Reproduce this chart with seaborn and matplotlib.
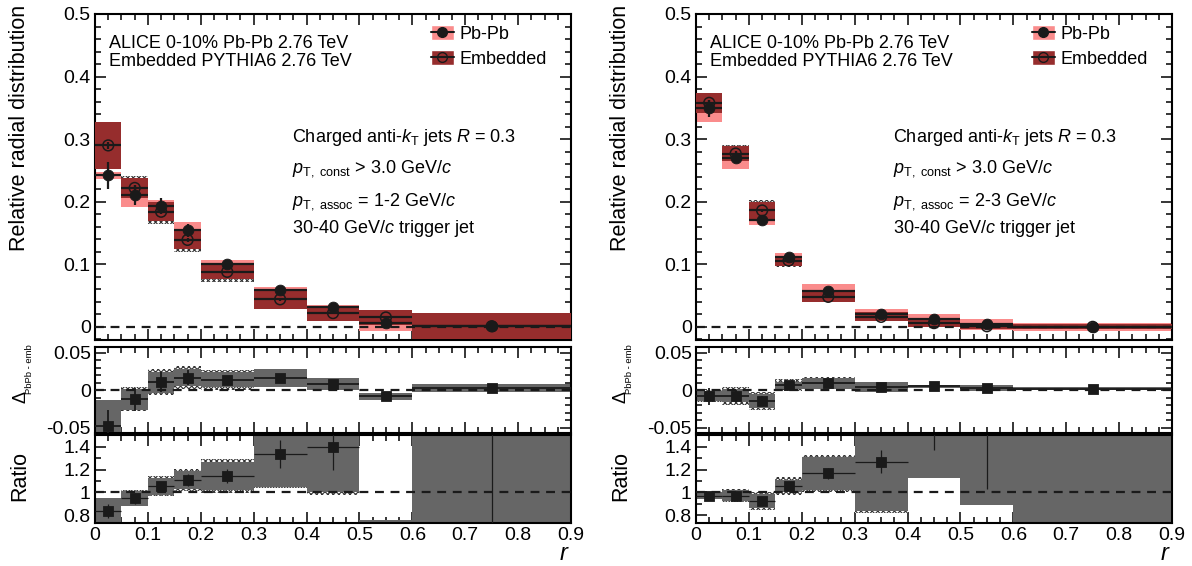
import numpy as np
import matplotlib
matplotlib.use('Agg')
import matplotlib.pyplot as plt
import seaborn as sns
from matplotlib.patches import Patch
from matplotlib.lines import Line2D
from matplotlib.ticker import MultipleLocator

# bins in r
r_center = [0.025, 0.075, 0.125, 0.175, 0.25, 0.35, 0.45, 0.55, 0.75]
r_halfw = [0.025, 0.025, 0.025, 0.025, 0.05, 0.05, 0.05, 0.05, 0.15]

# pT,assoc = 1-2 GeV/c
pbpb_12 = [0.242, 0.210, 0.193, 0.154, 0.101, 0.059, 0.031, 0.006, 0.002]
pbpb_12_stat = [0.022, 0.016, 0.013, 0.011, 0.005, 0.004, 0.004, 0.004, 0.003]
pbpb_12_sys = [0.005, 0.018, 0.010, 0.013, 0.006, 0.005, 0.004, 0.013, 0.004]
emb_12 = [0.290, 0.222, 0.184, 0.139, 0.088, 0.044, 0.022, 0.015, 0.001]
emb_12_stat = [0.006, 0.004, 0.004, 0.003, 0.002, 0.002, 0.002, 0.002, 0.002]
emb_12_sys = [0.037, 0.016, 0.015, 0.014, 0.012, 0.015, 0.012, 0.012, 0.021]
emb_12_hatch = [0.037, 0.019, 0.019, 0.019, 0.016, 0.016, 0.012, 0.012, 0.021]
delta_12 = [-0.048, -0.012, 0.011, 0.017, 0.014, 0.016, 0.009, -0.008, 0.003]
delta_12_stat = [0.022, 0.015, 0.013, 0.010, 0.005, 0.005, 0.004, 0.003, 0.002]
delta_12_sys = [0.035, 0.014, 0.014, 0.011, 0.010, 0.012, 0.008, 0.005, 0.005]
delta_12_hatch = [0.035, 0.016, 0.017, 0.015, 0.013, 0.012, 0.008, 0.005, 0.005]
ratio_12 = [0.839, 0.947, 1.055, 1.108, 1.143, 1.336, 1.40, 0.30, 1.60]
ratio_12_stat = [0.06, 0.05, 0.04, 0.05, 0.06, 0.12, 0.20, 0.30, 1.50]
ratio_12_sys = [0.11, 0.065, 0.075, 0.08, 0.12, 0.29, 0.40, 0.46, 2.0]
ratio_12_hatch = [0.11, 0.07, 0.09, 0.10, 0.15, 0.30, 0.42, 0.46, 2.0]

# pT,assoc = 2-3 GeV/c
pbpb_23 = [0.349, 0.270, 0.171, 0.112, 0.057, 0.020, 0.012, 0.004, 0.000]
pbpb_23_stat = [0.013, 0.008, 0.005, 0.004, 0.003, 0.002, 0.002, 0.002, 0.002]
pbpb_23_sys = [0.021, 0.017, 0.008, 0.006, 0.011, 0.008, 0.009, 0.009, 0.006]
emb_23 = [0.358, 0.277, 0.186, 0.106, 0.048, 0.016, 0.006, 0.001, 0.000]
emb_23_stat = [0.005, 0.004, 0.003, 0.002, 0.002, 0.002, 0.002, 0.002, 0.002]
emb_23_sys = [0.016, 0.012, 0.013, 0.008, 0.009, 0.007, 0.007, 0.005, 0.004]
emb_23_hatch = [0.016, 0.014, 0.017, 0.011, 0.009, 0.007, 0.007, 0.005, 0.004]
delta_23 = [-0.008, -0.007, -0.014, 0.0066, 0.0094, 0.0047, 0.0056, 0.0033, 0.002]
delta_23_stat = [0.011, 0.008, 0.006, 0.003, 0.002, 0.002, 0.002, 0.002, 0.001]
delta_23_sys = [0.0065, 0.009, 0.009, 0.005, 0.007, 0.007, 0.002, 0.004, 0.002]
delta_23_hatch = [0.008, 0.012, 0.012, 0.008, 0.008, 0.007, 0.002, 0.004, 0.002]
ratio_23 = [0.971, 0.971, 0.924, 1.055, 1.167, 1.27, 1.90, 1.80, 2.50]
ratio_23_stat = [0.02, 0.02, 0.02, 0.03, 0.05, 0.10, 0.53, 0.77, 0.5]
ratio_23_sys = [0.03, 0.05, 0.06, 0.05, 0.145, 0.43, 0.77, 0.91, 2.0]
ratio_23_hatch = [0.03, 0.06, 0.08, 0.08, 0.16, 0.45, 0.77, 0.91, 2.0]

PINK = '#fa8c8c'
DARK = '#962d2d'
GRAY = '#666666'

sns.set_theme(style='ticks')
plt.rcParams['font.family'] = ['Liberation Sans', 'DejaVu Sans']
plt.rcParams['mathtext.fontset'] = 'custom'
plt.rcParams['mathtext.rm'] = 'Liberation Sans'
plt.rcParams['mathtext.it'] = 'Liberation Sans:italic'
plt.rcParams['hatch.linewidth'] = 0.8
plt.rcParams['axes.unicode_minus'] = False
for k in ['text.color', 'axes.labelcolor', 'xtick.color', 'ytick.color', 'axes.edgecolor']:
    plt.rcParams[k] = 'black'


def boxes(ax, y, err, color, hatch=False, z=1):
    y = np.array(y)
    err = np.array(err)
    if hatch:
        ax.bar(r_center, 2 * err, bottom=y - err, width=np.array(r_halfw) * 2,
               color='white', edgecolor='#333333', linewidth=0, hatch='xxxxxx', zorder=z)
    else:
        ax.bar(r_center, 2 * err, bottom=y - err, width=np.array(r_halfw) * 2,
               color=color, linewidth=0, zorder=z)


def style(ax, ylim, ymaj, ymin, ylabels, xlabels):
    ax.set_xlim(0, 0.9)
    ax.set_ylim(*ylim)
    ax.xaxis.set_major_locator(MultipleLocator(0.1))
    ax.xaxis.set_minor_locator(MultipleLocator(0.025))
    ax.set_yticks(ymaj, ylabels)
    ax.yaxis.set_minor_locator(MultipleLocator(ymin))
    ax.tick_params(which='both', direction='in', top=True, right=True, labelsize=14, width=1.1, pad=3)
    ax.tick_params(which='major', length=8)
    ax.tick_params(which='minor', length=4)
    if xlabels:
        ax.set_xticks(np.arange(0, 0.91, 0.1), ['0', '0.1', '0.2', '0.3', '0.4', '0.5', '0.6', '0.7', '0.8', '0.9'])
    else:
        ax.set_xticklabels([])
    for s in ax.spines.values():
        s.set_linewidth(1.5)
    ax.set_xlabel('')
    ax.set_ylabel('')


fig = plt.figure(figsize=(11.92, 5.66), dpi=100)

panels = [
    (95, '1-2', pbpb_12, pbpb_12_stat, pbpb_12_sys, emb_12, emb_12_stat, emb_12_sys, emb_12_hatch,
     delta_12, delta_12_stat, delta_12_sys, delta_12_hatch, ratio_12, ratio_12_stat, ratio_12_sys, ratio_12_hatch),
    (696, '2-3', pbpb_23, pbpb_23_stat, pbpb_23_sys, emb_23, emb_23_stat, emb_23_sys, emb_23_hatch,
     delta_23, delta_23_stat, delta_23_sys, delta_23_hatch, ratio_23, ratio_23_stat, ratio_23_sys, ratio_23_hatch),
]

W, H = 1192., 566.
for (x0, assoc, pb, pb_st, pb_sy, em, em_st, em_sy, em_h,
     dl, dl_st, dl_sy, dl_h, rt, rt_st, rt_sy, rt_h) in panels:
    ax1 = fig.add_axes([x0 / W, 1 - 340 / H, 476 / W, 326 / H])
    ax2 = fig.add_axes([x0 / W, 1 - 433 / H, 476 / W, 86 / H])
    ax3 = fig.add_axes([x0 / W, 1 - 523 / H, 476 / W, 88 / H])

    # top panel: radial distributions
    boxes(ax1, em, em_h, None, hatch=True, z=1)
    boxes(ax1, pb, pb_sy, PINK, z=2)
    boxes(ax1, em, em_sy, DARK, z=3)
    ax1.axhline(0, color='k', ls=(0, (4, 3)), lw=1.6, zorder=4)
    ax1.errorbar(r_center, em, xerr=r_halfw, yerr=em_st, fmt='none', ecolor='k', elinewidth=1.6, zorder=5)
    ax1.errorbar(r_center, pb, xerr=r_halfw, yerr=pb_st, fmt='none', ecolor='k', elinewidth=1.6, zorder=6)
    sns.scatterplot(x=r_center, y=em, ax=ax1, marker='o', s=60, facecolor='none', edgecolor='k',
                    linewidth=1.1, zorder=7)
    sns.scatterplot(x=r_center, y=pb, ax=ax1, marker='o', s=60, color='k', edgecolor='k', zorder=8)
    style(ax1, (-0.021, 0.5), [0, 0.1, 0.2, 0.3, 0.4, 0.5], 0.02,
          ['0', '0.1', '0.2', '0.3', '0.4', '0.5'], False)

    fs = 13
    ax1.text(0.03, 0.911, 'ALICE 0-10% Pb-Pb 2.76 TeV', transform=ax1.transAxes, fontsize=fs, va='center')
    ax1.text(0.03, 0.853, 'Embedded PYTHIA6 2.76 TeV', transform=ax1.transAxes, fontsize=fs, va='center')
    ax1.text(0.413, 0.621, r'Charged anti-$k_{\rm T}$ jets $R$ = 0.3', transform=ax1.transAxes,
             fontsize=fs, va='center')
    ax1.text(0.413, 0.513, r'$p_{\rm T,\ const}$ > 3.0 GeV/$c$', transform=ax1.transAxes,
             fontsize=fs, va='baseline')
    ax1.text(0.413, 0.413, r'$p_{\rm T,\ assoc}$ = ' + assoc + r' GeV/$c$', transform=ax1.transAxes,
             fontsize=fs, va='baseline')
    ax1.text(0.413, 0.343, r'30-40 GeV/$c$ trigger jet', transform=ax1.transAxes, fontsize=fs, va='center')

    handles = [(Patch(facecolor=PINK), Line2D([], [], color='k', marker='o', ms=7, lw=1.5)),
               (Patch(facecolor=DARK), Line2D([], [], color='k', marker='o', ms=7, mfc='none', lw=1.5))]
    ax1.legend(handles, ['Pb-Pb', 'Embedded'], loc='upper left', bbox_to_anchor=(0.705, 0.965),
               frameon=False, fontsize=fs, handlelength=1.3, handleheight=0.9, labelspacing=0.4,
               handletextpad=0.3, borderpad=0, borderaxespad=0)

    # middle panel: difference
    boxes(ax2, dl, dl_h, None, hatch=True, z=1)
    boxes(ax2, dl, dl_sy, GRAY, z=2)
    ax2.axhline(0, color='k', ls=(0, (4, 3)), lw=1.6, zorder=4)
    ax2.errorbar(r_center, dl, xerr=r_halfw, yerr=dl_st, fmt='none', ecolor='k', elinewidth=1.3, zorder=5)
    sns.scatterplot(x=r_center, y=dl, ax=ax2, marker='s', s=55, color='k', edgecolor='k', zorder=6)
    style(ax2, (-0.057, 0.058), [-0.05, 0, 0.05], 0.01, ['-0.05', '0', '0.05'], False)

    # bottom panel: ratio
    boxes(ax3, rt, rt_h, None, hatch=True, z=1)
    boxes(ax3, rt, rt_sy, GRAY, z=2)
    ax3.axhline(1, color='k', ls=(0, (4, 3)), lw=1.6, zorder=4)
    ax3.errorbar(r_center, rt, xerr=r_halfw, yerr=rt_st, fmt='none', ecolor='k', elinewidth=0.9, zorder=5)
    sns.scatterplot(x=r_center, y=rt, ax=ax3, marker='s', s=55, color='k', edgecolor='k', zorder=6)
    style(ax3, (0.731, 1.503), [0.8, 1.0, 1.2, 1.4], 0.1, ['0.8', '1', '1.2', '1.4'], True)

    # axis titles
    lx = (x0 - 75) / W
    fig.text(lx, 1 - 5 / H, 'Relative radial distribution', rotation=90, ha='center', va='top', fontsize=15.5)
    fig.text(lx + 1 / W, 1 - 390 / H, r'$\Delta$', rotation=90, ha='center', va='top', fontsize=13)
    fig.text(lx + 9 / W, 1 - 344 / H, 'PbPb - emb', rotation=90, ha='center', va='top', fontsize=6.8)
    fig.text(lx, 1 - 476 / H, 'Ratio', rotation=90, ha='center', va='center', fontsize=15.5)
    fig.text((x0 + 475) / W, 1 - 565 / H, r'$r$', ha='right', va='bottom', fontsize=17)

fig.savefig('out.png', dpi=100)
